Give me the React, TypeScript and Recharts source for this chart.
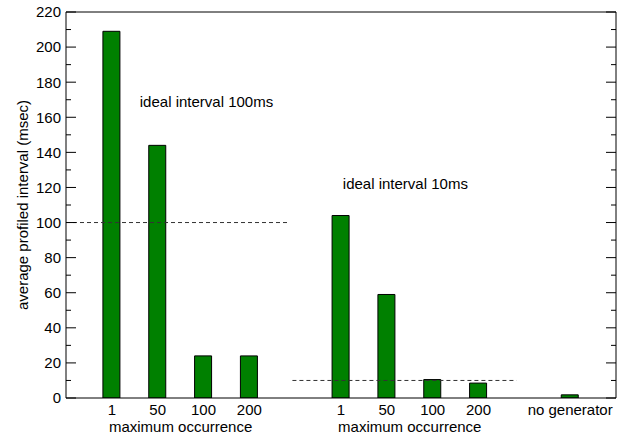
import React from 'react';
import { BarChart, Bar, XAxis, YAxis, ReferenceLine, ReferenceDot, Label } from 'recharts';

// ---- data ----
const group1Labels = ['1', '50', '100', '200'];
const group1Values = [209, 144, 24, 24];
const group2Labels = ['1', '50', '100', '200'];
const group2Values = [104, 59, 10.5, 8.5];
const group3Labels = ['no generator'];
const group3Values = [1.8];
const groupTitles = ['maximum occurrence', 'maximum occurrence', ''];

const yMax = 220;
const yMajorStep = 20;
const yMinorTicks = [0, 10, 20, 30, 40, 50, 60, 70, 80, 90, 100, 110, 120, 130, 140, 150, 160, 170, 180, 190, 200, 210, 220];

const idealValues = [100, 10];
const idealSpans = [
  [0, 4.87],
  [4.94, 9.83],
];
const noteTexts = ['ideal interval 100ms', 'ideal interval 10ms'];
const noteX = [1.61, 6.04];
const noteY = [169, 122];

const yLabel = 'average profiled interval (msec)';

// ---- build rows (slot index computed; one empty slot between groups) ----
const groups = [
  { labels: group1Labels, values: group1Values, title: groupTitles[0] },
  { labels: group2Labels, values: group2Values, title: groupTitles[1] },
  { labels: group3Labels, values: group3Values, title: groupTitles[2] },
];

const rows: { slot: number; value: number; label: string }[] = [];
const groupCenterTitles: Record<number, string> = {};
let slot = 1;
groups.forEach((g) => {
  const start = slot;
  g.labels.forEach((lab, i) => {
    rows.push({ slot, value: g.values[i], label: lab });
    slot += 1;
  });
  const end = slot - 1;
  if (g.title) groupCenterTitles[(start + end) / 2] = g.title;
  slot += 1;
});
const xMax = slot - 1;
const slotLabels: Record<number, string> = {};
rows.forEach((r) => (slotLabels[r.slot] = r.label));
const xTicks = [...rows.map((r) => r.slot), ...Object.keys(groupCenterTitles).map(Number)].sort((a, b) => a - b);

const FONT = "'Liberation Sans', Arial, Helvetica, sans-serif";
const FS = 15;

const XTick = (props: any) => {
  const { x, y, payload } = props;
  const v = payload.value;
  const isGroup = groupCenterTitles[v] !== undefined;
  const text = isGroup ? groupCenterTitles[v] : slotLabels[v] ?? '';
  return (
    <text
      x={x}
      y={y + (isGroup ? 17 : 0)}
      dy="0.71em"
      textAnchor="middle"
      fill="#000"
      fontSize={FS}
      fontFamily={FONT}
    >
      {text}
    </text>
  );
};

const LeftTick = (props: any) => {
  const { x, y, payload } = props;
  const v = payload.value;
  const major = v % yMajorStep === 0;
  const edge = x + 5; // axis position (label x + tickMargin)
  return (
    <g>
      <line x1={edge} x2={edge + (major ? 10 : 5)} y1={y} y2={y} stroke="#000" strokeWidth={1} />
      {major && (
        <text x={x} y={y} dy="0.355em" textAnchor="end" fill="#000" fontSize={FS} fontFamily={FONT}>
          {v}
        </text>
      )}
    </g>
  );
};

const RightTick = (props: any) => {
  const { x, y, payload } = props;
  const v = payload.value;
  const major = v % yMajorStep === 0;
  return <line x1={x} x2={x - (major ? 10 : 5)} y1={y} y2={y} stroke="#000" strokeWidth={1} />;
};

const renderYLabel = (props: any) => {
  const vb = props.viewBox || { x: 0, y: 12, width: 66, height: 386 };
  const cx = vb.x + 22;
  const cy = vb.y + vb.height / 2;
  return (
    <text
      x={cx}
      y={cy}
      transform={`rotate(-90 ${cx} ${cy})`}
      textAnchor="middle"
      dominantBaseline="central"
      fill="#000"
      fontSize={FS}
      fontFamily={FONT}
    >
      {yLabel}
    </text>
  );
};

export default function App() {
  return (
    <div style={{ position: 'absolute', left: 0, top: 0, background: '#fff' }}>
      <BarChart
        width={624}
        height={438}
        data={rows}
        margin={{ top: 12, right: 7, bottom: 0, left: 0 }}
        barSize={17}
      >
        <XAxis
          xAxisId="main"
          dataKey="slot"
          type="number"
          domain={[0, xMax]}
          ticks={xTicks}
          interval={0}
          tick={<XTick />}
          tickLine={false}
          tickSize={0}
          tickMargin={6}
          axisLine={false}
          height={40}
          allowDataOverflow
        />
        <YAxis
          yAxisId="main"
          type="number"
          domain={[0, yMax]}
          ticks={yMinorTicks}
          interval={0}
          tick={<LeftTick />}
          tickLine={false}
          tickSize={0}
          tickMargin={5}
          axisLine={false}
          width={66}
          allowDataOverflow
        >
          <Label content={renderYLabel} />
        </YAxis>
        <YAxis
          yAxisId="right"
          orientation="right"
          type="number"
          domain={[0, yMax]}
          ticks={yMinorTicks}
          interval={0}
          tick={<RightTick />}
          tickLine={false}
          tickSize={0}
          tickMargin={0}
          axisLine={false}
          width={1}
          allowDataOverflow
        />
        {/* frame */}
        <ReferenceLine xAxisId="main" yAxisId="main" y={yMax} stroke="#000" strokeWidth={1} />
        <ReferenceLine xAxisId="main" yAxisId="main" y={0} stroke="#000" strokeWidth={1} />
        <ReferenceLine xAxisId="main" yAxisId="main" x={0} stroke="#000" strokeWidth={1} />
        <ReferenceLine xAxisId="main" yAxisId="main" x={xMax} stroke="#000" strokeWidth={1} />
        {idealValues.map((v, i) => (
          <ReferenceLine
            key={`ideal-${i}`}
            xAxisId="main"
            yAxisId="main"
            segment={[
              { x: idealSpans[i][0], y: v },
              { x: idealSpans[i][1], y: v },
            ]}
            stroke="#333"
            strokeWidth={1}
            strokeDasharray="4 3"
            ifOverflow="visible"
          />
        ))}
        <Bar
          xAxisId="main"
          yAxisId="main"
          dataKey="value"
          fill="#008000"
          stroke="#000"
          strokeWidth={1}
          isAnimationActive={false}
        />
        {noteTexts.map((t, i) => (
          <ReferenceDot
            key={`note-${i}`}
            xAxisId="main"
            yAxisId="main"
            x={noteX[i]}
            y={noteY[i]}
            r={0}
            fill="none"
            stroke="none"
            label={{ value: t, position: 'right', offset: 0, fill: '#000', fontSize: FS, fontFamily: FONT }}
          />
        ))}
      </BarChart>
    </div>
  );
}
